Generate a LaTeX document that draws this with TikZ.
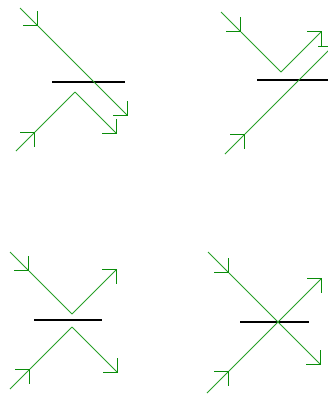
\documentclass[tikz,border=0pt]{standalone}
\usetikzlibrary{arrows.meta}
\definecolor{ray}{RGB}{40,160,40}
\definecolor{rayhead}{RGB}{10,140,10}
\tikzset{
  x=1pt, y=-1pt,
  ray/.style={draw=ray, line width=0.8pt},
  rayarr/.style={ray, -{Straight Barb[length=10pt 0 0, width=20pt 0 0, line width=1.4pt, color=rayhead]}},
  surface/.style={draw=black, line width=1.2pt}
}
\begin{document}
\begin{tikzpicture}
\useasboundingbox (0,0) rectangle (328,394);
% ---------- panel 1 ----------
\coordinate (a1s) at (20,8);
\coordinate (a1m) at (38,26);
\coordinate (a1e) at (128,116);
\coordinate (b1s) at (16,151);
\coordinate (b1m) at (35,132);
\coordinate (b1a) at (75,92);
\coordinate (b1e) at (117,134);
\coordinate (s1l) at (52,82);
\coordinate (s1r) at (125,82);
\draw[surface] (s1l) -- (s1r);
\draw[rayarr] (a1s) -- (a1m);
\draw[rayarr] (a1m) -- (a1e);
\draw[rayarr] (b1s) -- (b1m);
\draw[ray] (b1m) -- (b1a);
\draw[rayarr] (b1a) -- (b1e);
% ---------- panel 2 ----------
\coordinate (a2s) at (221,12);
\coordinate (a2m) at (241,32);
\coordinate (a2a) at (281,72);
\coordinate (a2e) at (322,31);
\coordinate (b2s) at (225,154);
\coordinate (b2m) at (245,134);
\coordinate (b2e) at (333,46);
\coordinate (s2l) at (257,80);
\coordinate (s2r) at (330,80);
\draw[surface] (s2l) -- (s2r);
\draw[rayarr] (a2s) -- (a2m);
\draw[ray] (a2m) -- (a2a);
\draw[rayarr] (a2a) -- (a2e);
\draw[rayarr] (b2s) -- (b2m);
\draw[rayarr] (b2m) -- (b2e);
% ---------- panel 3 ----------
\coordinate (a3s) at (10,252);
\coordinate (a3m) at (29,271);
\coordinate (a3a) at (72,314);
\coordinate (a3e) at (117,269);
\coordinate (b3s) at (10,389);
\coordinate (b3m) at (30,369);
\coordinate (b3a) at (72,327);
\coordinate (b3e) at (118,373);
\coordinate (s3l) at (34,320);
\coordinate (s3r) at (102,320);
\draw[surface] (s3l) -- (s3r);
\draw[rayarr] (a3s) -- (a3m);
\draw[ray] (a3m) -- (a3a);
\draw[rayarr] (a3a) -- (a3e);
\draw[rayarr] (b3s) -- (b3m);
\draw[ray] (b3m) -- (b3a);
\draw[rayarr] (b3a) -- (b3e);
% ---------- panel 4 ----------
\coordinate (a4s) at (208,252);
\coordinate (a4m) at (229,273);
\coordinate (a4e) at (321,365);
\coordinate (b4s) at (207,393);
\coordinate (b4m) at (229,371);
\coordinate (b4e) at (322,278);
\coordinate (s4l) at (240,322);
\coordinate (s4r) at (309,322);
\draw[surface] (s4l) -- (s4r);
\draw[rayarr] (a4s) -- (a4m);
\draw[rayarr] (a4m) -- (a4e);
\draw[rayarr] (b4s) -- (b4m);
\draw[rayarr] (b4m) -- (b4e);
\end{tikzpicture}
\end{document}
